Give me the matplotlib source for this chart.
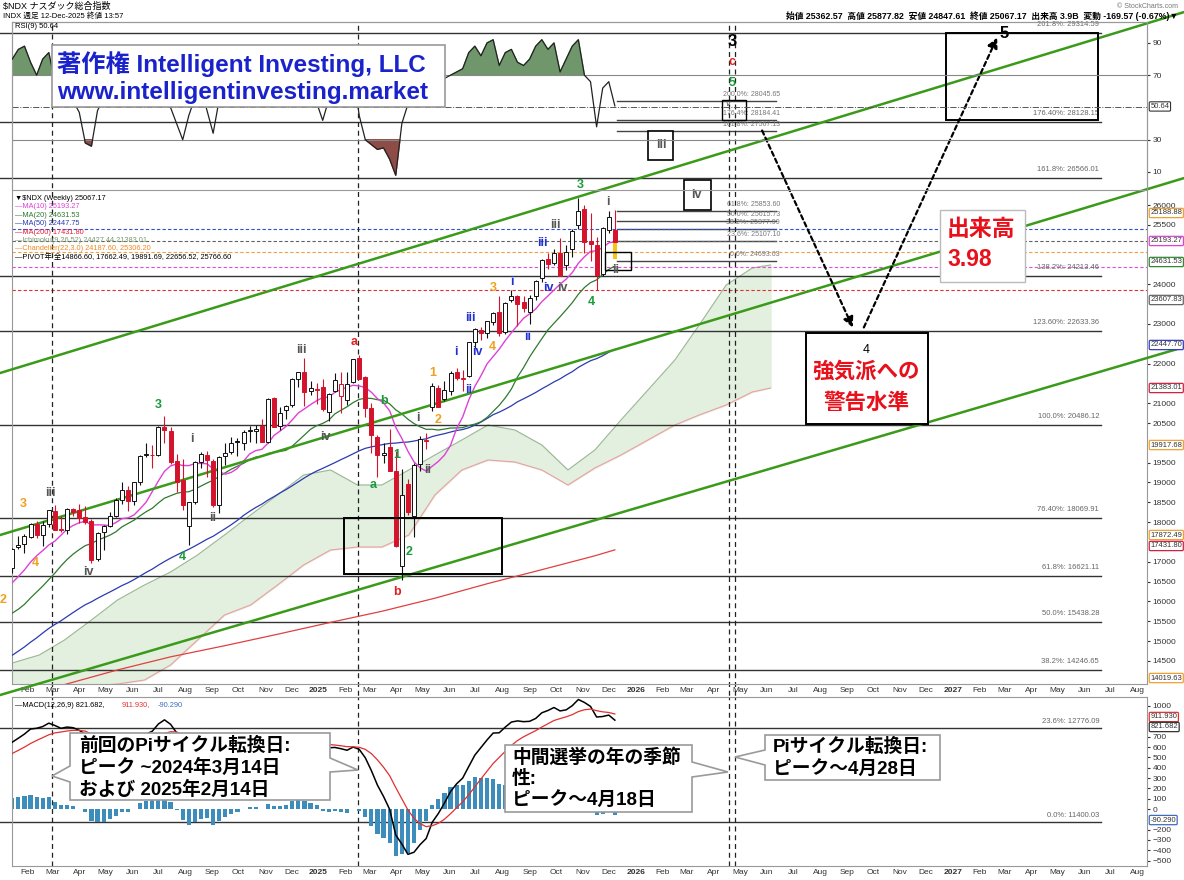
import numpy as np
import pandas as pd
import matplotlib
matplotlib.use("Agg")
import matplotlib.pyplot as plt
import matplotlib.dates as mdates
from matplotlib.patches import Rectangle, Polygon

plt.rcParams['font.family'] = ['Liberation Sans', 'Noto Sans CJK JP', 'DejaVu Sans']

W, H = 1184, 880

# ---- weekly NDX bars (week starting Monday) ----
weeks = pd.date_range('2024-01-15', periods=100, freq='7D')

opens = [16850, 17370, 17450, 17630, 17960, 17680, 17950, 18290, 17800, 17800,
         18330, 18300, 18140, 18030, 17080, 17760, 17910, 18160, 18570, 18810,
         18540, 19000, 19690, 19700, 19700, 20390, 20310, 19540, 19060, 17900,
         18520, 19520, 19700, 19550, 18440, 19660, 19760, 20040, 20000, 20300,
         20300, 20420, 20030, 21120, 20420, 20820, 20950, 21610, 21780, 21300,
         21360, 21410, 20780, 21300, 21180, 21090, 21540, 22150, 21650, 20880,
         20150, 19700, 19900, 19300, 16900, 18950, 18150, 19470, 20050, 20900,
         21390, 21100, 21320, 21790, 21600, 21700, 22550, 22850, 22780, 23060,
         23300, 22800, 23600, 23700, 23550, 23300, 23700, 24150, 24650, 24550,
         24800, 24500, 24900, 25500, 25900, 25100, 25000, 24250, 25380, 25362]
highs = [17340, 17660, 17700, 17990, 18040, 18040, 18310, 18420, 18150, 18360,
         18360, 18460, 18410, 18070, 17740, 17920, 18260, 18620, 19000, 18900,
         19020, 19700, 20000, 19950, 20420, 20690, 20400, 19720, 19590, 18520,
         19540, 19770, 19800, 19600, 19680, 20000, 20140, 20130, 20330, 20420,
         20440, 20600, 21120, 21170, 20900, 20950, 21640, 21780, 22133, 21550,
         21520, 21600, 21270, 21760, 21800, 21800, 22120, 22222, 21700, 21000,
         20200, 20000, 20340, 19800, 19350, 19100, 19490, 20180, 20250, 21500,
         21450, 21560, 21810, 21880, 21830, 22550, 22900, 22920, 23080, 23300,
         23700, 23560, 23850, 23720, 23710, 23730, 24100, 24650, 24800, 24900,
         25160, 25000, 25400, 26182, 26000, 25800, 25200, 25450, 25840, 25877]
lows = [16710, 17310, 17230, 17600, 17590, 17400, 17880, 17800, 17750, 17710,
        18160, 17990, 17950, 16973, 17030, 17300, 17870, 18120, 18460, 18290,
        18430, 18930, 19650, 19360, 19670, 19990, 19470, 18750, 18310, 17433,
        18450, 19360, 19150, 18390, 18220, 19450, 19720, 19660, 19830, 20020,
        20000, 20030, 19990, 20390, 20320, 20610, 20910, 21420, 20920, 21200,
        20990, 20800, 20540, 21280, 20760, 20960, 21500, 21600, 20660, 19750,
        19150, 19500, 19300, 17380, 16542, 18170, 17630, 19290, 19850, 20810,
        20900, 21060, 21220, 21580, 21300, 21650, 22400, 22600, 22650, 22980,
        22700, 22750, 23550, 22950, 23300, 23000, 23600, 24050, 24400, 24500,
        24200, 24350, 24700, 25400, 24800, 24600, 23854, 24200, 25300, 24847]
closes = [17314, 17421, 17643, 17963, 17686, 17937, 18302, 17809, 17808, 18339,
          18255, 18108, 18003, 17037, 17718, 17891, 18161, 18547, 18809, 18537,
          19000, 19660, 19700, 19683, 20392, 20331, 19523, 19023, 18440, 18513,
          19508, 19720, 19575, 18421, 19638, 19736, 20000, 20014, 20272, 20324,
          20352, 20033, 21117, 20394, 20744, 20930, 21622, 21780, 21289, 21394,
          21326, 20847, 21237, 21580, 21478, 21491, 22114, 21614, 20885, 20201,
          19704, 19754, 19282, 17398, 18690, 18258, 19432, 20102, 20061, 21427,
          20916, 21340, 21761, 21631, 21626, 22534, 22867, 22781, 23066, 23273,
          22764, 23532, 23713, 23498, 23415, 23652, 24092, 24626, 24504, 24785,
          24222, 24818, 25358, 25858, 25060, 25008, 24240, 25435, 25692, 25067]
# 2023 weekly closes, only used to seed the moving averages / MACD
warmup_closes = [12304, 12358, 11956, 12248, 11830, 12520, 12767, 13181, 13062, 13080,
                 13060, 13246, 13340, 13340, 13870, 14299, 14547, 14616, 15083, 14891,
                 15180, 15036, 15565, 15439, 15757, 15274, 15113, 14695, 14942, 15414,
                 15461, 15202, 14701, 14715, 14964, 14995, 14542, 14180, 15099, 15530,
                 15840, 15982, 15997, 16084, 16623, 16898, 16826, 16306, 16832]

rsi_values = [80, 86, 88, 78, 70, 80, 84, 66, 62, 60,
              54, 47, 28, 26, 48, 56, 64, 74, 80, 70,
              80, 86, 86, 84, 87, 84, 50, 40, 30, 45,
              56, 62, 48, 34, 55, 62, 68, 66, 72, 72,
              74, 62, 80, 60, 68, 72, 82, 84, 62, 64,
              53, 42, 55, 65, 62, 63, 72, 45, 30, 27,
              24, 25, 18, 8, 40, 52, 60, 66, 62, 72,
              66, 68, 70, 72, 74, 84, 88, 82, 90, 92,
              76, 84, 86, 78, 76, 80, 88, 92, 86, 90,
              72, 80, 88, 92, 70, 66, 38, 62, 66, 51]

# MA(200)
ma200_dates = ['2024-01-15', '2024-03-15', '2024-05-15', '2024-07-15', '2024-09-15',
               '2024-11-15', '2025-01-15', '2025-03-15', '2025-05-15', '2025-07-15',
               '2025-09-15', '2025-11-15', '2025-12-08']
ma200_values = [13650, 13900, 14270, 14600, 14880, 15170, 15470, 15750, 16080,
                16450, 16800, 17150, 17300]

# Ichimoku cloud
cloud_dates = ['2024-01-15', '2024-02-15', '2024-03-15', '2024-04-15', '2024-05-15',
               '2024-06-15', '2024-07-15', '2024-08-15', '2024-09-15', '2024-10-15',
               '2024-11-15', '2024-12-15', '2025-01-15', '2025-02-15', '2025-03-15',
               '2025-04-15', '2025-05-15', '2025-06-15', '2025-07-15', '2025-08-15',
               '2025-09-15', '2025-10-15', '2025-11-15', '2025-12-15', '2026-01-15',
               '2026-02-15', '2026-03-15', '2026-04-15', '2026-05-15', '2026-06-05']
cloud_top = [14445, 14647, 15025, 15530, 16035, 16413, 16741, 17171, 17675, 18180,
             18685, 19189, 19316, 18937, 18937, 19316, 19694, 20073, 20451, 20325,
             19946, 19316, 19821, 20577, 21334, 22092, 22975, 23984, 24413, 24489]
cloud_bottom = [13764, 13764, 13814, 13865, 13915, 14016, 14395, 15025, 15656, 15909,
                16413, 16918, 17297, 17372, 17372, 17675, 18685, 19316, 19568, 19517,
                19316, 18937, 19366, 19694, 20073, 20451, 20704, 20956, 21284, 21385]

# Fibonacci levels across the whole chart
fib_levels = [30344, 28098, 26685, 24211, 22823, 20451, 18104, 16640, 15479, 14268]
fib_labels = ['261.8%: 29314.59', '176.40%: 28128.15', '161.8%: 26566.01',
              '138.2%: 24213.46', '123.60%: 22633.36', '100.0%: 20486.12',
              '76.40%: 18069.91', '61.8%: 16621.11', '50.0%: 15438.28',
              '38.2%: 14246.65']
# short Fibonacci set right of the last bar
short_fib_levels = [28628, 28148, 27871, 25852, 25599, 25397, 25095, 24590]
short_fib_labels = ['200.0%: 28045.65', '176.4%: 28184.41', '161.8%: 27567.13',
                    '61.8%: 25853.60', '50.0%: 25615.73', '38.2%: 25377.99',
                    '23.6%: 25107.10', '0.0%: 24693.63']
# dashed overlay levels
dash_levels = [25397, 25095, 24817, 24438, 23858]
dash_colors = ['#3050d0', '#606060', '#f0a040', '#e050e0', '#e03030']

price_ticks = [14500, 15000, 15500, 16000, 16500, 17000, 18000, 18500, 19000, 19500,
               20500, 21000, 22000, 23000, 24000, 25500, 26000]
price_tags = [25801, 25095, 24565, 23606, 22470, 21385, 19946, 17675, 17398, 14066]
price_tag_text = ['25188.88', '25193.27', '24631.53', '23607.83', '22447.70',
                  '21383.01', '19917.68', '17872.49', '17431.80', '14019.63']
price_tag_colors = ['#f0a030', '#e040d8', '#2f8a2f', '#666666', '#3040c0',
                    '#d02040', '#f0a030', '#f0a030', '#d02040', '#f0a030']

macd_ticks = [1000, 700, 600, 500, 400, 300, 200, 100, 0, -200, -300, -400, -500]

# ---- derived series ----
x = mdates.date2num(weeks)
o, h, l, c = (np.array(v, float) for v in (opens, highs, lows, closes))
allc = pd.Series(warmup_closes + closes, dtype=float)
ma10 = allc.rolling(10).mean().values[-100:]
ma20 = allc.rolling(20).mean().values[-100:]
ma50 = allc.rolling(50, min_periods=40).mean().values[-100:]
ema12 = allc.ewm(span=12, adjust=False).mean()
ema26 = allc.ewm(span=26, adjust=False).mean()
macd = ema12 - ema26
signal = macd.ewm(span=9, adjust=False).mean()
hist = (macd - signal).values[-100:]
macd = macd.values[-100:]
signal = signal.values[-100:]
rsi = np.array(rsi_values, float)


def dt(s):
    return mdates.date2num(pd.Timestamp(s))


def rect(x0, y0, x1, y1):
    return [x0 / W, 1 - y1 / H, (x1 - x0) / W, (y1 - y0) / H]


fig = plt.figure(figsize=(W / 100, H / 100), dpi=100)
ax = fig.add_axes(rect(12, 22, 1147, 684))
ax_rsi = fig.add_axes(rect(12, 22, 1147, 190))
ax_macd = fig.add_axes(rect(12, 697, 1147, 866))

xl = (dt('2024-01-14 16:00'), dt('2027-08-12'))
for a in (ax, ax_rsi, ax_macd):
    a.set_xlim(*xl)
    for s in a.spines.values():
        s.set_color('#999999')
        s.set_linewidth(0.8)
ax.set_ylim(13915, 30621)
ax_rsi.set_ylim(-1.16, 103.0)
ax_macd.set_ylim(-553, 1087)
ax_rsi.set_facecolor('none')

# ---- main panel ----
cx = mdates.date2num(pd.to_datetime(cloud_dates))
ax.fill_between(cx, cloud_bottom, cloud_top, color='#e3efdf', zorder=1)
ax.plot(cx, cloud_top, color='#9ab894', lw=0.8, zorder=1.2)
ax.plot(cx, cloud_bottom, color='#eaa0a0', lw=0.8, zorder=1.2)

x_fib0, x_fib1 = dt('2024-01-01'), dt('2027-06-20')
for lev, lab in zip(fib_levels, fib_labels):
    ax.plot([x_fib0, x_fib1], [lev, lev], color='#333333', lw=1.0, zorder=1.5, clip_on=False)
    ax.text(dt('2027-06-18'), lev + 120, lab, ha='right', va='bottom', fontsize=5.5,
            color='#666666', zorder=6)
for lev, lab in zip(short_fib_levels, short_fib_labels):
    ax.plot([dt('2025-12-11'), dt('2026-06-11')], [lev, lev], color='#444444', lw=1.0, zorder=1.5)
    ax.text(dt('2026-06-16'), lev + 70, lab, ha='right', va='bottom', fontsize=5,
            color='#777777', zorder=6)
for lev, col in zip(dash_levels, dash_colors):
    ax.axhline(lev, color=col, lw=0.8, ls=(0, (3, 2)), zorder=1.6)

# channel lines
ch_x = [dt('2024-01-01'), dt('2027-09-24')]
for p0, p1 in [(21763, 30874), (17675, 26685), (13637, 22420)]:
    ax.plot(ch_x, [p0, p1], color='#3a9a1a', lw=1.8, zorder=3.5, clip_on=False)

ax.plot(x, ma50, color='#2a3bb0', lw=0.9, zorder=3)
ax.plot(x, ma20, color='#2f7a2f', lw=0.9, zorder=3)
ax.plot(x, ma10, color='#e040d8', lw=1.0, zorder=3)
ax.plot(mdates.date2num(pd.to_datetime(ma200_dates)), ma200_values, color='#e04040', lw=0.9, zorder=3)

# candles
prev = np.r_[warmup_closes[-1], c[:-1]]
col = np.where(c < prev, '#d4142c', '#111111')
face = np.where(c >= o, 'white', col)
ax.vlines(x, l, h, colors=col, lw=0.8, zorder=4)
ax.bar(x[-1], c[-1] - 24650, bottom=24650, width=4.6, color='#f5c518', zorder=4.5)
ax.bar(x, np.maximum(np.abs(c - o), 20), bottom=np.minimum(o, c), width=4.6,
       color=face, edgecolor=col, linewidth=0.7, zorder=5)

# vertical cycle lines
for d in ['2024-03-01', '2025-02-16', '2026-04-18', '2026-04-25']:
    ax.axvline(dt(d), ymin=-0.03, ymax=1.0, color='#222222', lw=0.9, ls=(0, (4, 3)), zorder=2, clip_on=False)
    ax_macd.axvline(dt(d), color='#222222', lw=0.9, ls=(0, (4, 3)), zorder=2)


def box(d0, d1, p0, p1, fill=False, lw=1.4):
    ax.add_patch(Rectangle((dt(d0), p0), dt(d1) - dt(d0), p1 - p0, fill=fill, fc='white',
                           ec='black', lw=lw, zorder=6, clip_on=False))


box('2026-12-24', '2027-06-17', 28148, 30344)
box('2026-07-16', '2026-12-03', 20476, 22773, fill=True)
box('2025-01-30', '2025-07-31', 16691, 18104)
box('2026-01-15', '2026-02-13', 27139, 27871, fill=True, lw=1.2)
box('2026-02-25', '2026-03-28', 25877, 26634, fill=True, lw=1.2)
box('2026-04-10', '2026-05-08', 28148, 28653, lw=1.0)
box('2025-11-27', '2025-12-26', 24363, 24817, lw=1.0)
ax.text(dt('2026-01-30'), 27505, 'iii', ha='center', va='center', fontsize=9, weight='bold', color='#555', zorder=7)
ax.text(dt('2026-03-12'), 26255, 'iv', ha='center', va='center', fontsize=9, weight='bold', color='#555', zorder=7)
ax.text(dt('2026-04-17'), 28560, 'v', ha='center', va='center', fontsize=6.5, style='italic', color='#555', zorder=7)
ax.text(dt('2026-09-23'), 22344, '4', ha='center', va='center', fontsize=9, color='black', zorder=7)
ax.text(dt('2026-09-23'), 21789, '強気派への', ha='center', va='center', fontsize=15.5,
        weight='bold', color='#e8101a', zorder=7)
ax.text(dt('2026-09-23'), 20990, '警告水準', ha='center', va='center', fontsize=15.5,
        weight='bold', color='#e8101a', zorder=7)

arrow = dict(arrowstyle='-|>,head_length=0.6,head_width=0.3', ls=(0, (2, 1.5)), lw=1.6, color='black')
ax.annotate('', xy=(dt('2026-09-09'), 22849), xytext=(dt('2026-05-25'), 27946),
            arrowprops=arrow, annotation_clip=False, zorder=7)
ax.annotate('', xy=(dt('2027-02-22'), 30293), xytext=(dt('2026-09-19'), 22849),
            arrowprops=arrow, annotation_clip=False, zorder=7)

# wave labels
OR, GY, GR, RD, BL = '#f0a020', '#555555', '#1a9a3a', '#e02020', '#2030d0'
waves = [('3', OR, '2024-01-28', 18457), ('4', OR, '2024-02-11', 16969), ('2', OR, '2024-01-04', 16035),
         ('iii', GY, '2024-02-28', 18735), ('iv', GY, '2024-04-11', 16741), ('3', GR, '2024-07-01', 20956),
         ('i', GY, '2024-08-09', 20098), ('4', GR, '2024-07-29', 17120), ('ii', GY, '2024-09-01', 18104),
         ('iii', GY, '2024-12-12', 22344), ('iv', GY, '2025-01-09', 20148), ('a', RD, '2025-02-11', 22546),
         ('b', GR, '2025-03-17', 21057), ('1', GR, '2025-04-01', 19694), ('a', GR, '2025-03-05', 18937),
         ('2', GR, '2025-04-15', 17246), ('b', RD, '2025-04-02', 16237), ('1', OR, '2025-05-12', 21763),
         ('2', OR, '2025-05-19', 20577), ('i', GY, '2025-04-26', 20628), ('ii', GY, '2025-05-07', 19316),
         ('i', BL, '2025-06-08', 22293), ('iv', BL, '2025-07-03', 22293), ('4', OR, '2025-07-20', 22420),
         ('ii', BL, '2025-06-23', 21334), ('iii', BL, '2025-06-25', 23151), ('3', OR, '2025-07-21', 23908),
         ('i', BL, '2025-08-11', 24060), ('ii', BL, '2025-08-30', 22672), ('iii', GY, '2025-10-01', 25498),
         ('iii', BL, '2025-09-16', 25044), ('iv', BL, '2025-09-23', 23908), ('iv', GY, '2025-10-09', 23908),
         ('3', GR, '2025-10-29', 26508), ('i', GY, '2025-11-30', 26079), ('4', GR, '2025-11-11', 23555),
         ('ii', GY, '2025-12-09', 24363), ('c', RD, '2026-04-22', 29612), ('5', GR, '2026-04-22', 29082)]
for t, cl, d, p in waves:
    ax.text(dt(d), p, t, ha='center', va='center', fontsize=9, weight='bold', color=cl, zorder=7, clip_on=False)
ax.text(dt('2026-04-22'), 30117, '3', ha='center', va='center', fontsize=12, weight='bold', color='black', zorder=7)
ax.text(dt('2027-03-01'), 30319, '5', ha='center', va='center', fontsize=12, weight='bold', color='black', zorder=7)

# right axis
ax.yaxis.tick_right()
ax.set_yticks(price_ticks)
ax.set_yticklabels([str(v) for v in price_ticks])
ax.tick_params(axis='y', labelsize=6, length=2, colors='#333333', pad=2)
for p, t, cl in zip(price_tags, price_tag_text, price_tag_colors):
    ax.text(1.003, p, t, transform=ax.get_yaxis_transform(), fontsize=5.5, va='center', ha='left',
            color='#333', zorder=8, clip_on=False,
            bbox=dict(boxstyle='round,pad=0.15', fc='white', ec=cl, lw=0.9))

# ---- RSI panel ----
ax_rsi.plot(x, rsi, color='#222222', lw=0.9, zorder=3)
ax_rsi.fill_between(x, rsi, 70, where=rsi >= 70, interpolate=True, color='#6f976b', zorder=2)
ax_rsi.fill_between(x, rsi, 30, where=rsi <= 30, interpolate=True, color='#8e4c47', zorder=2)
ax_rsi.axhline(70, color='#888888', lw=0.8)
ax_rsi.axhline(30, color='#888888', lw=0.8)
ax_rsi.axhline(50, color='#555555', lw=0.7, ls='-.')
ax_rsi.set_xticks([])
ax_rsi.yaxis.tick_right()
ax_rsi.set_yticks([10, 30, 70, 90])
ax_rsi.tick_params(axis='y', labelsize=6, length=2, colors='#333333', pad=2)
ax_rsi.text(1.003, 50.64, '50.64', transform=ax_rsi.get_yaxis_transform(), fontsize=5.5, va='center',
            color='#333', clip_on=False, bbox=dict(boxstyle='round,pad=0.15', fc='white', ec='#333', lw=0.8))

# ---- MACD panel ----
ax_macd.bar(x, hist, width=4.8, color='#3c8dbc', zorder=2)
ax_macd.plot(x, macd, color='black', lw=1.1, zorder=3)
ax_macd.plot(x, signal, color='#e03030', lw=0.9, zorder=3)
for lev, lab in [(786, '23.6%: 12776.09'), (-126, '0.0%: 11400.03')]:
    ax_macd.plot([x_fib0, x_fib1], [lev, lev], color='#333333', lw=1.0, zorder=1.5, clip_on=False)
    ax_macd.text(dt('2027-06-18'), lev + 25, lab, ha='right', va='bottom', fontsize=5.5, color='#666666')
ax_macd.yaxis.tick_right()
ax_macd.set_yticks(macd_ticks)
ax_macd.tick_params(axis='y', labelsize=6, length=2, colors='#333333', pad=2)
for v, t, cl in [(893, '911.930', '#e03030'), (796, '821.682', '#333333'), (-107, '-90.290', '#3c6dbc')]:
    ax_macd.text(1.003, v, t, transform=ax_macd.get_yaxis_transform(), fontsize=5.5, va='center',
                 color='#333', clip_on=False, bbox=dict(boxstyle='round,pad=0.15', fc='white', ec=cl, lw=0.9))

months = pd.date_range('2024-02-01', '2027-08-01', freq='MS')
mlabels = [str(m.year) if m.month == 1 else m.strftime('%b') for m in months]
for a in (ax, ax_macd):
    a.set_xticks(mdates.date2num(months))
    a.set_xticklabels(mlabels, fontsize=6, color='#333333')
    a.tick_params(axis='x', length=0, pad=2)
    for t, m in zip(a.get_xticklabels(), months):
        if m.month == 1:
            t.set_fontweight('bold')


# ---- figure level texts ----
def fx(px):
    return px / W


def fy(py):
    return 1 - py / H


fig.text(fx(3), fy(6), '$NDX ナスダック総合指数', fontsize=6.5, va='center')
fig.text(fx(3), fy(16), 'INDX 週足 12-Dec-2025 終値 13:57', fontsize=5.5, va='center')
fig.text(fx(15), fy(27), 'RSI(9) 50.64', fontsize=5.5, va='center')
fig.text(fx(1178), fy(6), '© StockCharts.com', fontsize=5, va='center', ha='right', color='#777')
fig.text(fx(1178), fy(16), '始値 25362.57  高値 25877.82  安値 24847.61  終値 25067.17  出来高 3.9B  変動 -169.57 (-0.67%)▼',
         fontsize=6.3, va='center', ha='right', weight='bold')

legend_rows = [('▼$NDX (Weekly) 25067.17', 'black'), ('—MA(10) 25193.27', '#e040d8'),
               ('—MA(20) 24631.53', '#2f7a2f'), ('—MA(50) 22447.75', '#2a3bb0'),
               ('—MA(200) 17431.80', '#e02040'), ('—Ichimoku(9,26,52) 24427.44 21383.01', '#7a9a70'),
               ('—Chandelier(22,3.0) 24187.60, 25306.20', '#f08a20'),
               ('—PIVOT年 全14866.60, 17662.49, 19891.69, 22656.52, 25766.60', 'black')]
for i, (t, cl) in enumerate(legend_rows):
    fig.text(fx(15), fy(198 + 8.5 * i), t, fontsize=5.3, color=cl, va='center')

fig.text(fx(15), fy(705), '—MACD(12,26,9) 821.682,', fontsize=5.3, va='center')
fig.text(fx(122), fy(705), '911.930,', fontsize=5.3, va='center', color='#e03030')
fig.text(fx(158), fy(705), '-90.290', fontsize=5.3, va='center', color='#3c6dbc')

# copyright box
fig.add_artist(Rectangle((fx(52), fy(107)), (445 - 52) / W, (107 - 45) / H, transform=fig.transFigure,
                         fc='white', ec='#999999', lw=1.2))
fig.text(fx(57), fy(64), '著作権 Intelligent Investing, LLC', fontsize=17.5, weight='bold',
         color='#1a22cc', va='center')
fig.text(fx(57), fy(92), 'www.intelligentinvesting.market', fontsize=17.5, weight='bold',
         color='#1a22cc', va='center')

# volume box
fig.add_artist(Rectangle((fx(940), fy(282)), 85 / W, 72 / H, transform=fig.transFigure,
                         fc='white', ec='#bbbbbb', lw=1.0))
fig.text(fx(947), fy(229), '出来高', fontsize=16.5, weight='bold', color='#e8101a', va='center')
fig.text(fx(947), fy(260), '3.98', fontsize=16.5, weight='bold', color='#e8101a', va='center')


def callout(verts):
    fig.add_artist(Polygon([(fx(a), fy(b)) for a, b in verts], closed=True, transform=fig.transFigure,
                           fc='white', ec='#9a9a9a', lw=1.2))


callout([(70, 733), (330, 733), (330, 758), (358, 770), (330, 772), (330, 800), (70, 800),
         (70, 782), (52, 776), (70, 766)])
callout([(505, 745), (692, 745), (692, 762), (728, 772), (692, 777), (692, 812), (505, 812)])
callout([(765, 735), (940, 735), (940, 780), (765, 780), (765, 765), (735, 757), (765, 750)])
for t, yy in [('前回のPiサイクル転換日:', 746), ('ピーク ~2024年3月14日', 768), ('および 2025年2月14日', 790)]:
    fig.text(fx(79), fy(yy), t, fontsize=13.5, weight='bold', va='center')
for t, yy in [('中間選挙の年の季節', 757), ('性:', 779), ('ピーク～4月18日', 800)]:
    fig.text(fx(512), fy(yy), t, fontsize=13.5, weight='bold', va='center')
for t, yy in [('Piサイクル転換日:', 747), ('ピーク～4月28日', 769)]:
    fig.text(fx(773), fy(yy), t, fontsize=13.5, weight='bold', va='center')

fig.savefig('out.png', dpi=100)
